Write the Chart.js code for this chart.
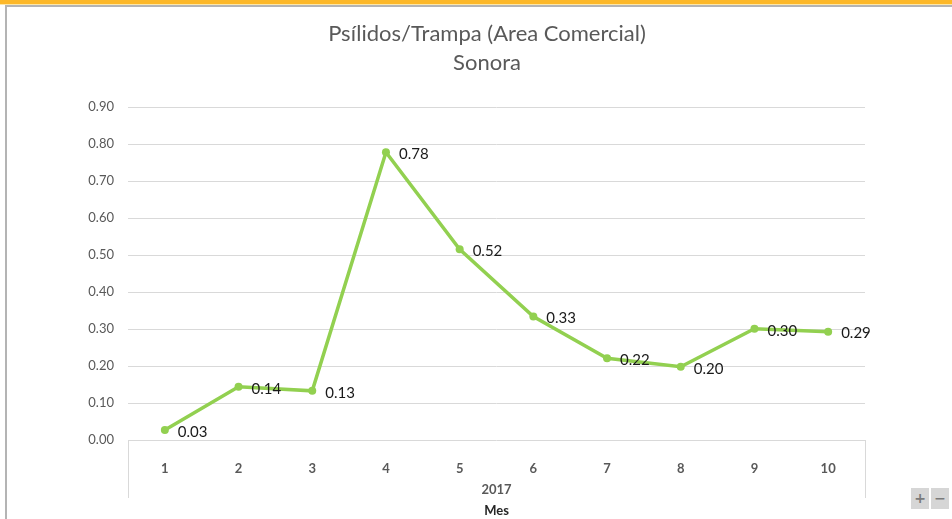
<!DOCTYPE html>
<html>
<head>
<meta charset="utf-8">
<script src="https://cdn.jsdelivr.net/npm/chart.js@4.4.1/dist/chart.umd.min.js"></script>
<style>
  html, body { margin: 0; padding: 0; background: #fff; overflow: hidden; }
  body { width: 952px; height: 519px; position: relative; }
  .topbar { position: absolute; left: 0; top: 0; width: 952px; height: 4px; background: #fdb829; }
  .topline { position: absolute; left: 0; top: 4px; width: 952px; height: 1px; background: #fde7a8; }
  .frame { position: absolute; left: 5px; top: 5px; width: 960px; height: 530px;
           border-left: 2px solid #b4b4b4; border-top: 2px solid #b4b4b4; box-sizing: border-box; }
  #wrap { position: absolute; left: 0; top: 0; width: 974px; height: 519px; }
  .zoom { position: absolute; top: 488px; width: 18px; height: 21px; background: #d6d6d6;
          color: #7a7a7a; font: bold 14px "DejaVu Sans", sans-serif; text-align: center; line-height: 21px; }
</style>
</head>
<body>
<div class="topbar"></div>
<div class="topline"></div>
<div class="frame"></div>
<div id="wrap"><canvas id="chart" width="974" height="519"></canvas></div>
<div class="zoom" style="left:911px">+</div>
<div class="zoom" style="left:931px">−</div>
<script>
  // Datos
  const meses = ["1", "2", "3", "4", "5", "6", "7", "8", "9", "10"];
  const psilidos = [0.027, 0.144, 0.133, 0.778, 0.516, 0.334, 0.221, 0.198, 0.301, 0.293];
  const anio = "2017";
  const tituloLineas = ["Psílidos/Trampa (Area Comercial)", "Sonora"];
  const ejeX = "Mes";

  const FONT = "Lato, 'Open Sans', sans-serif";

  // etiquetas de valor junto a cada punto
  const valueLabels = {
    id: "valueLabels",
    afterDatasetsDraw(chart) {
      const ctx = chart.ctx;
      const meta = chart.getDatasetMeta(0);
      ctx.save();
      ctx.font = "15px " + FONT;
      ctx.fillStyle = "#1a1a1a";
      ctx.textAlign = "left";
      ctx.textBaseline = "middle";
      meta.data.forEach((pt, i) => {
        ctx.fillText(psilidos[i].toFixed(2), pt.x + 13, pt.y + 2);
      });
      ctx.restore();
    }
  };

  // agrupación de categorías (2017) con sus separadores
  const grupo = {
    id: "grupo",
    afterDraw(chart) {
      const ctx = chart.ctx;
      const a = chart.chartArea;
      ctx.save();
      ctx.strokeStyle = "#d9d9d9";
      ctx.lineWidth = 1;
      [a.left, a.right].forEach(x => {
        ctx.beginPath();
        ctx.moveTo(Math.round(x) + 0.5, a.bottom);
        ctx.lineTo(Math.round(x) + 0.5, a.bottom + 58);
        ctx.stroke();
      });
      ctx.font = "bold 13px " + FONT;
      ctx.fillStyle = "#595959";
      ctx.textAlign = "center";
      ctx.textBaseline = "middle";
      ctx.fillText(anio, (a.left + a.right) / 2, a.bottom + 50);
      ctx.restore();
    }
  };

  new Chart(document.getElementById("chart").getContext("2d"), {
    type: "line",
    data: {
      labels: meses,
      datasets: [{
        data: psilidos,
        borderColor: "#92d050",
        backgroundColor: "#92d050",
        borderWidth: 3.5,
        pointRadius: 4,
        pointBackgroundColor: "#92d050",
        pointBorderWidth: 0,
        tension: 0
      }]
    },
    options: {
      responsive: false,
      animation: false,
      layout: { padding: 0 },
      plugins: {
        legend: { display: false },
        tooltip: { enabled: false },
        title: {
          display: true,
          text: tituloLineas,
          color: "#595959",
          font: { family: FONT, size: 22, weight: "normal", lineHeight: 1.3 },
          padding: { top: 20, bottom: 30 }
        }
      },
      scales: {
        x: {
          offset: true,
          grid: { display: false },
          border: { display: false },
          ticks: { color: "#595959", font: { family: FONT, size: 13, weight: "bold" }, padding: 13 },
          title: {
            display: true, text: ejeX, color: "#262626",
            font: { family: FONT, size: 13, weight: "bold" },
            padding: { top: 0, bottom: 0 }
          },
          afterFit: s => { s.height = 79; }
        },
        y: {
          min: 0,
          max: 0.9,
          grid: { color: "#d9d9d9", drawTicks: false },
          border: { display: false },
          ticks: {
            stepSize: 0.1,
            color: "#595959",
            font: { family: FONT, size: 13 },
            padding: 14,
            callback: v => v.toFixed(2)
          },
          afterFit: s => { s.width = 128; }
        },
        // margen derecho vacío (deja el título centrado sobre todo el gráfico)
        yRight: {
          position: "right",
          min: 0,
          max: 0.9,
          grid: { display: false },
          border: { display: false },
          ticks: { display: false },
          afterFit: s => { s.width = 109; }
        }
      }
    },
    plugins: [valueLabels, grupo]
  });
</script>
</body>
</html>
